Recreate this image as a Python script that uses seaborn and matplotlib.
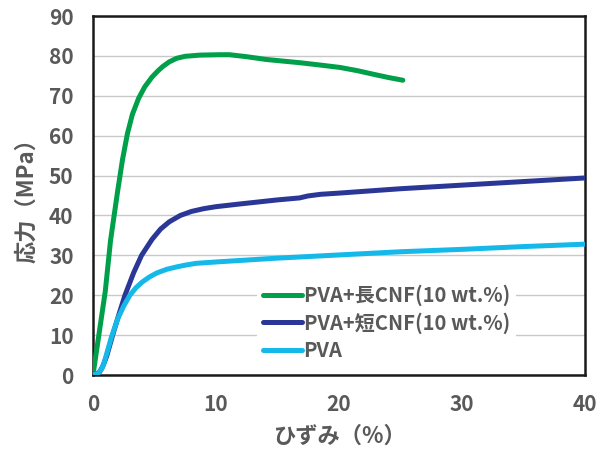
import matplotlib
matplotlib.use("Agg")
import matplotlib.pyplot as plt
import seaborn as sns
import pandas as pd

# Data
strain_long = [0, 0.5, 1.0, 1.43, 2.0, 2.4, 2.8, 3.2, 3.7, 4.2, 4.8, 5.3, 5.7, 6.2, 6.8, 7.5, 8.7, 10.3, 11.1, 12.5, 14.1, 16.8, 18.5, 20.1, 21.5, 22.8, 24.0, 25.2]
stress_long = [0, 10.5, 21, 33.8, 46, 54, 60.5, 65.3, 69.3, 72.2, 74.7, 76.3, 77.4, 78.5, 79.4, 79.9, 80.2, 80.3, 80.3, 79.8, 79.1, 78.3, 77.7, 77.1, 76.3, 75.4, 74.6, 73.9]

strain_short = [0, 0.3, 0.55, 0.8, 1.1, 1.6, 2.05, 2.6, 3.3, 3.95, 4.8, 5.5, 6.2, 7.1, 8.0, 9.0, 10.0, 12.0, 15.0, 16.8, 17.5, 18.5, 20.0, 25.0, 30.0, 35.0, 40.0]
stress_short = [0, 0.3, 0.8, 2.2, 4.6, 10, 14.6, 20, 25.6, 30, 34, 36.6, 38.4, 40, 41, 41.7, 42.2, 42.9, 43.9, 44.4, 44.9, 45.3, 45.6, 46.7, 47.6, 48.5, 49.4]

strain_pva = [0, 0.4, 0.7, 0.9, 1.1, 1.5, 2.0, 2.5, 3.0, 3.5, 4.0, 4.6, 5.2, 6.0, 6.8, 7.6, 8.4, 10.3, 15.0, 20.0, 25.0, 30.0, 35.0, 40.0]
stress_pva = [0, 0.4, 1.5, 3.0, 5.2, 9.5, 14, 17.3, 20, 21.9, 23.3, 24.6, 25.6, 26.5, 27.1, 27.6, 28.0, 28.4, 29.3, 30.1, 30.9, 31.5, 32.2, 32.8]

labels = ["PVA+長CNF(10 wt.%)", "PVA+短CNF(10 wt.%)", "PVA"]
colors = ["#00A04B", "#2B3797", "#14B9EA"]

x_ticks = [0, 10, 20, 30, 40]
y_ticks = [0, 10, 20, 30, 40, 50, 60, 70, 80, 90]

df = pd.concat([
    pd.DataFrame({"strain": strain_long, "stress": stress_long, "series": labels[0]}),
    pd.DataFrame({"strain": strain_short, "stress": stress_short, "series": labels[1]}),
    pd.DataFrame({"strain": strain_pva, "stress": stress_pva, "series": labels[2]}),
])

sns.set_style("white")
plt.rcParams["font.family"] = ["Noto Sans CJK JP", "DejaVu Sans"]

fig = plt.figure(figsize=(5.98, 4.55), dpi=100)
ax = fig.add_axes([0.1555, 0.1758, 0.8225, 0.789])

sns.lineplot(data=df, x="strain", y="stress", hue="series", hue_order=labels,
             palette=colors, linewidth=3.6, sort=False, estimator=None, ax=ax, zorder=3)
for ln in ax.lines:
    ln.set_solid_capstyle("round")
    ln.set_solid_joinstyle("round")

ax.set_xlim(0, 40)
ax.set_ylim(0, 90)
ax.set_xticks(x_ticks)
ax.set_yticks(y_ticks)
ax.yaxis.grid(True, color="#C8C8C8", linewidth=1.0, zorder=0)
ax.set_axisbelow(True)

txt = "#595959"
for s in ax.spines.values():
    s.set_color("#1a1a1a")
    s.set_linewidth(1.8)

ax.tick_params(axis="x", direction="in", length=6, width=1.8, color="#1a1a1a",
               labelsize=15, labelcolor=txt, pad=14)
ax.tick_params(axis="y", length=0, labelsize=15, labelcolor=txt, pad=14)
for lab in ax.get_xticklabels() + ax.get_yticklabels():
    lab.set_fontweight("bold")

ax.set_xlabel("ひずみ（%）", fontsize=16, fontweight="bold", color=txt, labelpad=7)
ax.set_ylabel("応力（MPa）", fontsize=16, fontweight="bold", color=txt, labelpad=8)

leg = ax.legend(loc="lower right", bbox_to_anchor=(0.868, 0.012), frameon=True,
                facecolor="white", edgecolor="none", framealpha=1,
                fontsize=14.5, handlelength=1.9, handletextpad=0.1,
                labelspacing=0.3, borderaxespad=0.2, borderpad=0.3)
for t in leg.get_texts():
    t.set_color(txt)
    t.set_fontweight("bold")
for l in leg.get_lines():
    l.set_linewidth(3.6)
leg.set_zorder(5)

fig.savefig("out.png", dpi=100)
